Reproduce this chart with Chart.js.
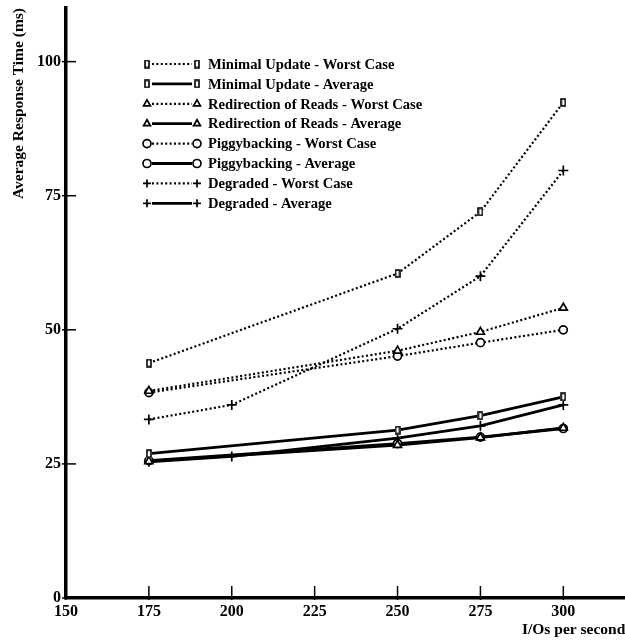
<!DOCTYPE html>
<html>
<head>
<meta charset="utf-8">
<script src="https://cdn.jsdelivr.net/npm/chart.js@4"></script>
<style>
  html, body { margin: 0; padding: 0; background: #fff; }
  #wrap { width: 625px; height: 642px; overflow: hidden; }
</style>
</head>
<body>
<div id="wrap"><canvas id="chart" width="632" height="642"></canvas></div>
<script>
// I/O rates (x values)
const ioRates = [175, 200, 250, 275, 300];

// response times (ms), null where the series has no point
const minimalWorst   = [43.8, null, 60.5, 72.0, 92.4];
const minimalAvg     = [26.9, null, 31.3, 34.0, 37.5];
const redirectWorst  = [38.6, null, 46.1, 49.6, 54.1];
const redirectAvg    = [25.5, null, 28.5, 29.9, 31.7];
const piggyWorst     = [38.3, null, 45.1, 47.6, 50.0];
const piggyAvg       = [25.6, null, 28.8, 30.0, 31.6];
const degradedWorst  = [33.3, 36.0, 50.2, 60.0, 79.7];
const degradedAvg    = [25.4, 26.4, 29.8, 32.1, 36.0];

const seriesLabels = [
  "Minimal Update - Worst Case",
  "Minimal Update - Average",
  "Redirection of Reads - Worst Case",
  "Redirection of Reads - Average",
  "Piggybacking - Worst Case",
  "Piggybacking - Average",
  "Degraded - Worst Case",
  "Degraded - Average"
];
const seriesValues = [minimalWorst, minimalAvg, redirectWorst, redirectAvg,
                      piggyWorst, piggyAvg, degradedWorst, degradedAvg];
const markerStyles = ["bar", "bar", "triangle", "triangle", "circle", "circle", "cross", "cross"];
const markerSizes = { bar: 3.5, triangle: 4.6, circle: 4, cross: 5 };

const yTicks = [0, 25, 50, 75, 100];
const xTicks = [150, 175, 200, 225, 250, 275, 300];

const FONT = "'Liberation Serif', 'DejaVu Serif', serif";

// the "minimal update" marker is a small upright box, not a square
function makeBarMarker() {
  const c = document.createElement("canvas");
  c.width = 6; c.height = 9;
  const g = c.getContext("2d");
  g.fillStyle = "#fff";
  g.fillRect(0, 0, 6, 9);
  g.strokeStyle = "#000";
  g.lineWidth = 1.6;
  g.strokeRect(1, 1, 4, 7);
  return c;
}
const barMarker = makeBarMarker();

const datasets = seriesValues.map((vals, i) => {
  const dotted = i % 2 === 0;
  const style = markerStyles[i] === "bar" ? barMarker : markerStyles[i];
  return {
    label: seriesLabels[i],
    data: ioRates.map((x, j) => ({ x: x, y: vals[j] })),
    borderColor: "#000",
    backgroundColor: "#fff",
    borderWidth: dotted ? 2.2 : 2.8,
    borderDash: dotted ? [2, 2.4] : [],
    pointStyle: style,
    pointRadius: markerSizes[markerStyles[i]],
    pointBorderWidth: 1.7,
    pointBorderColor: "#000",
    pointBackgroundColor: "#fff",
    spanGaps: true,
    tension: 0
  };
});

// small tick marks crossing the axes, plus the marker-line-marker legend
const paperStyle = {
  id: "paperStyle",
  afterDraw(chart) {
    const ctx = chart.ctx;
    const xs = chart.scales.x, ys = chart.scales.y;
    const area = chart.chartArea;
    ctx.save();
    ctx.strokeStyle = "#000";
    ctx.lineWidth = 1.5;
    ctx.setLineDash([]);
    yTicks.forEach(v => {
      const py = ys.getPixelForValue(v);
      ctx.beginPath();
      ctx.moveTo(area.left - 4, py);
      ctx.lineTo(area.left + 10, py);
      ctx.stroke();
    });
    xTicks.forEach(v => {
      const px = xs.getPixelForValue(v);
      ctx.beginPath();
      ctx.moveTo(px, area.bottom + 2);
      ctx.lineTo(px, area.bottom - 12);
      ctx.stroke();
    });

    // legend
    const x0 = 147, x1 = 197, tx = 208, top = 64, step = 19.9;
    ctx.font = "bold 14.6px " + FONT;
    ctx.textBaseline = "middle";
    ctx.textAlign = "left";
    chart.data.datasets.forEach((ds, i) => {
      const y = top + i * step;
      ctx.strokeStyle = "#000";
      ctx.beginPath();
      ctx.lineWidth = ds.borderWidth;
      ctx.setLineDash(ds.borderDash);
      ctx.moveTo(x0 + 5, y);
      ctx.lineTo(x1 - 5, y);
      ctx.stroke();
      ctx.setLineDash([]);
      const opts = {
        pointStyle: ds.pointStyle,
        radius: Math.min(ds.pointRadius, 4),
        borderWidth: ds.pointBorderWidth,
        rotation: 0
      };
      ctx.lineWidth = ds.pointBorderWidth;
      ctx.fillStyle = "#fff";
      Chart.helpers.drawPoint(ctx, opts, x0, y);
      Chart.helpers.drawPoint(ctx, opts, x1, y);
      ctx.fillStyle = "#000";
      ctx.fillText(ds.label, tx, y + 1);
    });
    ctx.restore();
  }
};

new Chart(document.getElementById("chart"), {
  type: "line",
  data: { datasets: datasets },
  plugins: [paperStyle],
  options: {
    responsive: false,
    animation: false,
    layout: { padding: { top: 8, right: 0, left: 0, bottom: 0 } },
    plugins: {
      legend: { display: false },
      tooltip: { enabled: false }
    },
    scales: {
      x: {
        type: "linear",
        min: 150,
        max: 318.7,
        afterBuildTicks: s => { s.ticks = xTicks.map(v => ({ value: v })); },
        afterFit: s => { s.height = 44; s.paddingLeft = 0; s.paddingRight = 0; },
        grid: { drawOnChartArea: false, drawTicks: false },
        border: { display: true, color: "#000", width: 3.5 },
        ticks: {
          color: "#000",
          padding: 4,
          maxRotation: 0,
          autoSkip: false,
          font: { family: FONT, size: 16, weight: "bold" }
        },
        title: {
          display: true,
          text: "I/Os per second",
          align: "end",
          color: "#000",
          padding: { top: 0, bottom: 3 },
          font: { family: FONT, size: 15.5, weight: "bold" }
        }
      },
      y: {
        type: "linear",
        min: 0,
        max: 110,
        afterBuildTicks: s => { s.ticks = yTicks.map(v => ({ value: v })); },
        afterFit: s => { s.width = 66; s.paddingTop = 0; s.paddingBottom = 0; },
        grid: { drawOnChartArea: false, drawTicks: false },
        border: { display: true, color: "#000", width: 3.5 },
        ticks: {
          color: "#000",
          padding: 5,
          font: { family: FONT, size: 16, weight: "bold" }
        },
        title: {
          display: true,
          text: "Average Response Time (ms)",
          align: "end",
          color: "#000",
          padding: { top: 10, bottom: 0 },
          font: { family: FONT, size: 15.5, weight: "bold" }
        }
      }
    }
  }
});
</script>
</body>
</html>
